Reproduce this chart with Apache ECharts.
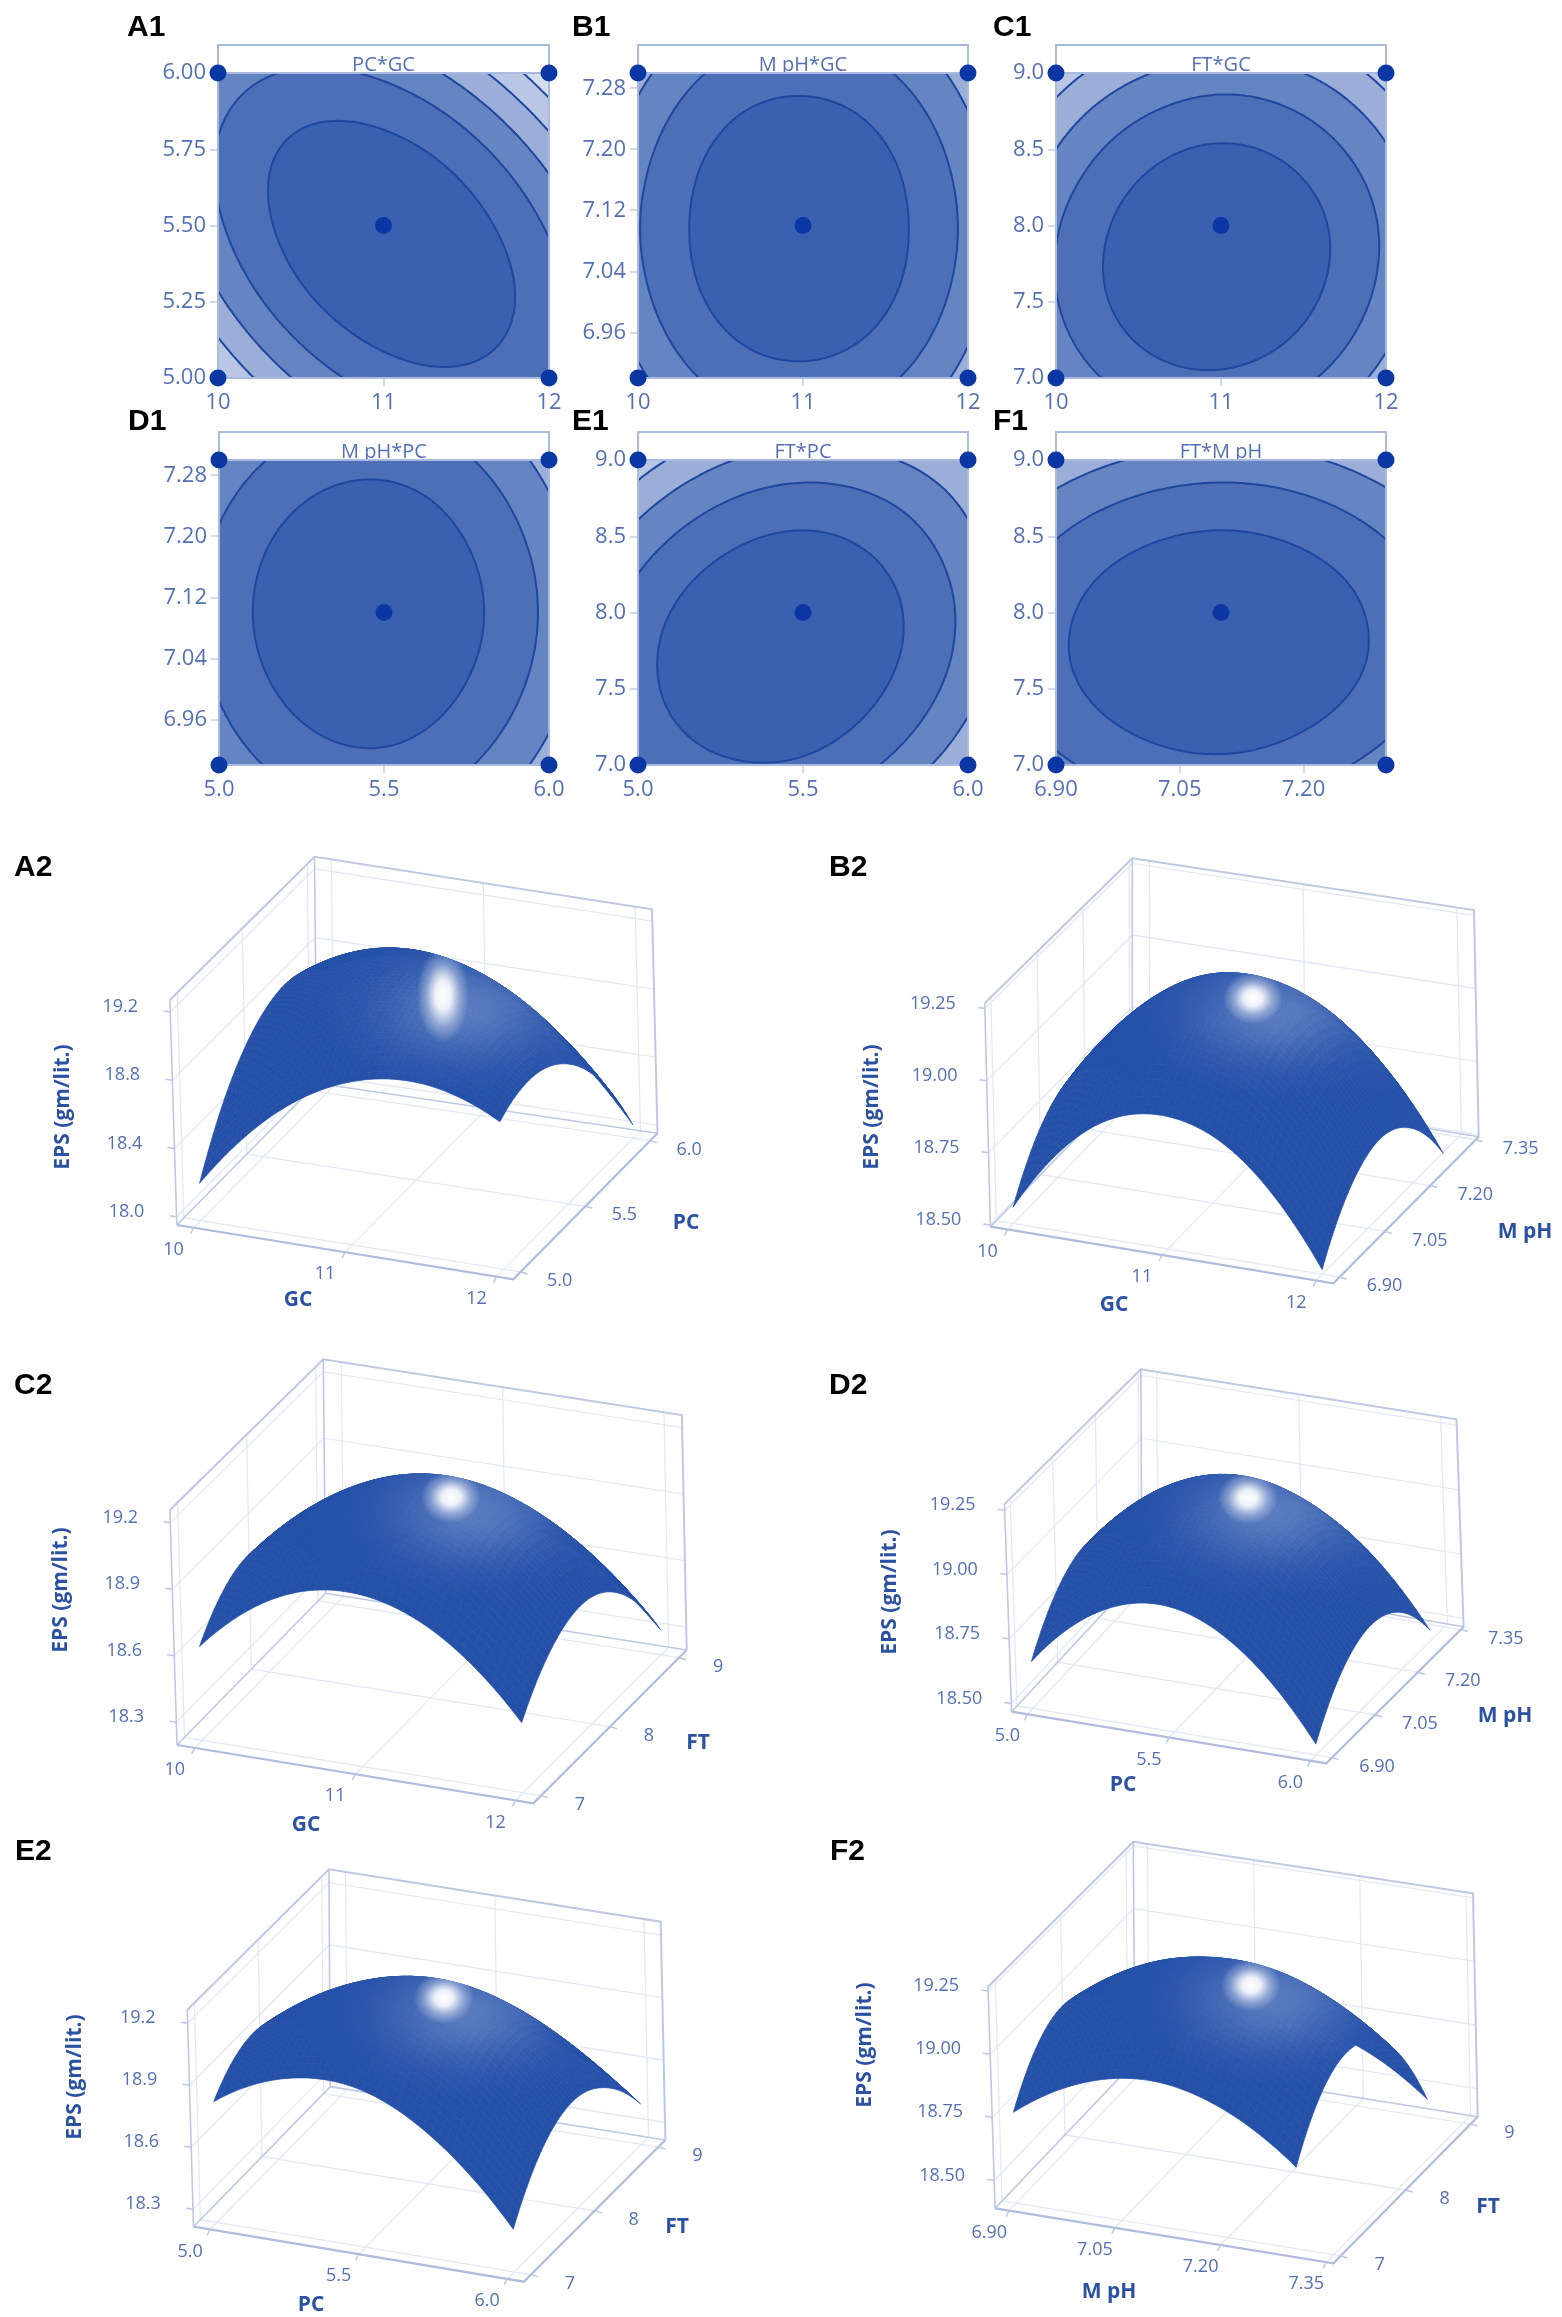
<!DOCTYPE html>
<html><head><meta charset="utf-8"><style>html,body{margin:0;padding:0;background:#fff}#c{width:1562px;height:2317px}</style>
<script src="https://cdn.jsdelivr.net/npm/echarts@6/dist/echarts.min.js"></script></head>
<body><div id="c"></div>
<script>
// EPS (gm/lit.) read from the response surfaces: rows = low to high Y factor, columns = low to high X factor
const epsPCGC = [[18.17,18.64,18.90,18.96,18.81],[18.56,18.95,19.13,19.11,18.88],[18.77,19.08,19.18,19.08,18.77],[18.81,19.04,19.06,18.88,18.49],[18.67,18.82,18.76,18.50,18.03]];
const epsPHGC = [[18.55,18.86,18.95,18.84,18.51],[18.73,19.04,19.13,19.02,18.69],[18.79,19.09,19.19,19.07,18.75],[18.72,19.03,19.12,19.01,18.68],[18.53,18.84,18.93,18.82,18.49]];
const epsFTGC = [[18.62,18.90,18.97,18.84,18.51],[18.79,19.08,19.16,19.04,18.72],[18.78,19.08,19.18,19.07,18.76],[18.60,18.91,19.02,18.92,18.62],[18.28,18.57,18.69,18.60,18.31]];
const epsPHPC = [[18.65,18.89,18.95,18.82,18.51],[18.82,19.06,19.12,18.99,18.69],[18.88,19.12,19.18,19.05,18.75],[18.82,19.06,19.12,18.99,18.69],[18.64,18.88,18.94,18.82,18.51]];
const epsFTPC = [[18.80,18.97,18.97,18.78,18.42],[18.93,19.13,19.16,19.00,18.67],[18.89,19.12,19.18,19.05,18.74],[18.67,18.93,19.02,18.92,18.64],[18.28,18.57,18.68,18.62,18.41]];
const epsFTPH = [[18.75,18.91,18.96,18.89,18.71],[18.94,19.10,19.16,19.09,18.92],[18.95,19.12,19.17,19.12,18.94],[18.79,18.96,19.02,18.96,18.79],[18.45,18.62,18.68,18.63,18.46]];
const contourLevels = [18.2,18.4,18.6,18.8,19.0];
const rangeGC = [10,12], rangePC = [5,6], rangePH = [6.9,7.3], rangeFT = [7,9];
const ticksGC = [10,11,12], ticksPC2 = [5,5.25,5.5,5.75,6], ticksPC = [5,5.5,6], ticksPH = [6.96,7.04,7.12,7.2,7.28], ticksPHx = [6.9,7.05,7.2], ticksFT = [7,7.5,8,8.5,9];
const ticksPH3 = [6.9,7.05,7.2,7.35], ticksFT3 = [7,8,9];
const zTicks12 = [18,18.4,18.8,19.2], zTicks25 = [18.5,18.75,19,19.25], zTicks30 = [18.3,18.6,18.9,19.2];

const bandColors = ['#d4dcee','#b9c7e4','#9aaed7','#6585c2','#4c6fb8','#3a60b0'];
const C_TICK='#5470b5', C_NAME='#2b51a3', C_MARK='#0a37a3', C_SPINE='#a9bade', C_LINE='#1f47a0', C_GRID='#e3e8f4', C_BOX='#bcc8e4';
const FONT='"Open Sans"';

const contours = [
 {l:'A1',t:'PC*GC',box:[218,73,331,305],eps:epsPCGC,xr:rangeGC,yr:rangePC,xt:ticksGC,yt:ticksPC2,xd:0,yd:2},
 {l:'B1',t:'M pH*GC',box:[638,73,330,305],eps:epsPHGC,xr:rangeGC,yr:rangePH,xt:ticksGC,yt:ticksPH,xd:0,yd:2},
 {l:'C1',t:'FT*GC',box:[1056,73,330,305],eps:epsFTGC,xr:rangeGC,yr:rangeFT,xt:ticksGC,yt:ticksFT,xd:0,yd:1},
 {l:'D1',t:'M pH*PC',box:[219,460,330,305],eps:epsPHPC,xr:rangePC,yr:rangePH,xt:ticksPC,yt:ticksPH,xd:1,yd:2},
 {l:'E1',t:'FT*PC',box:[638,460,330,305],eps:epsFTPC,xr:rangePC,yr:rangeFT,xt:ticksPC,yt:ticksFT,xd:1,yd:1},
 {l:'F1',t:'FT*M pH',box:[1056,460,330,305],eps:epsFTPH,xr:rangePH,yr:rangeFT,xt:ticksPHx,yt:ticksFT,xd:2,yd:1}
];
const boxGC=[9.889,12.111], boxPC=[4.944,6.056], boxPH=[6.88,7.36], boxFT=[6.889,9.111];
// p3: projection of the 3-D box corners onto the page: FL, FR, BR, BL (floor), TFL, TBL, TBR (top)
const surfaces = [
 {l:'A2',eps:epsPCGC,xr:rangeGC,yr:rangePC,xb:boxGC,yb:boxPC,zb:[17.952,19.27],xt:ticksGC,yt:ticksPC,zt:zTicks12,xd:0,yd:1,zd:1,xn:'GC',yn:'PC',
  p3:[[176.8,1225],[513.3,1279.3],[657.5,1133.3],[316.8,1083.3],[169.9,1000],[314.5,856.7],[652,909.3]],xp:[298,1300],yp:[686,1223],zp:[63,1107],hl:[443,995,26,48]},
 {l:'B2',eps:epsPHGC,xr:rangeGC,yr:rangePH,xb:boxGC,yb:boxPH,zb:[18.494,19.268],xt:ticksGC,yt:ticksPH3,zt:zTicks25,xd:0,yd:2,zd:2,xn:'GC',yn:'M pH',
  p3:[[990.4,1226.7],[1333.4,1283.3],[1478.7,1136.7],[1132.3,1080],[984.7,1003.3],[1132.3,858.3],[1474,910]],xp:[1114,1305],yp:[1525,1232],zp:[872,1107],hl:[1253,998,30,26]},
 {l:'C2',eps:epsFTGC,xr:rangeGC,yr:rangeFT,xb:boxGC,yb:boxFT,zb:[18.197,19.257],xt:ticksGC,yt:ticksFT3,zt:zTicks30,xd:0,yd:0,zd:1,xn:'GC',yn:'FT',
  p3:[[177,1745],[533.3,1803.3],[686.7,1650],[325.6,1593.3],[169.9,1510],[323.3,1359.3],[681.9,1415]],xp:[306,1825],yp:[698,1743],zp:[61,1590],hl:[451,1497,30,26]},
 {l:'D2',eps:epsPHPC,xr:rangePC,yr:rangePH,xb:boxPC,yb:boxPH,zb:[18.468,19.274],xt:ticksPC,yt:ticksPH3,zt:zTicks25,xd:1,yd:2,zd:2,xn:'PC',yn:'M pH',
  p3:[[1011.6,1711.7],[1326.3,1763.3],[1463.6,1626.7],[1141.8,1571.7],[1004.5,1504],[1140.8,1369.3],[1456.5,1419.3]],xp:[1123,1785],yp:[1505,1716],zp:[890,1592],hl:[1248,1498,30,26]},
 {l:'E2',eps:epsFTPC,xr:rangePC,yr:rangeFT,xb:boxPC,yb:boxFT,zb:[18.216,19.264],xt:ticksPC,yt:ticksFT3,zt:zTicks30,xd:1,yd:0,zd:1,xn:'PC',yn:'FT',
  p3:[[193.5,2226.7],[523.8,2281.7],[665.4,2140],[330.3,2086.7],[187.3,2010],[328.9,1869.3],[660.7,1921.7]],xp:[311,2305],yp:[677,2227],zp:[75,2077],hl:[444,1998,30,26]},
 {l:'F2',eps:epsFTPH,xr:rangePH,yr:rangeFT,xb:boxPH,yb:boxFT,zb:[18.39,19.267],xt:ticksPH3,yt:ticksFT3,zt:zTicks25,xd:2,yd:0,zd:2,xn:'M pH',yn:'FT',
  p3:[[995.1,2208.3],[1333.4,2263.3],[1477.7,2116.7],[1134.7,2061.7],[988,1986.7],[1133.3,1841.7],[1473,1893.3]],xp:[1109,2292],yp:[1488,2207],zp:[865,2045],hl:[1251,1985,30,26]}
];
const letterPos = {A1:[127,28],B1:[572,28],C1:[993,28],D1:[128,422],E1:[572,422],F1:[993,422],A2:[14,868],B2:[829,868],C2:[14,1386],D2:[829,1386],E2:[15,1852],F2:[830,1852]};

// Smooth drawing of a surface between its read nodes (renderer smoothing, like a line's smooth:true)
function cr(p,t){
  const n=p.length, s=Math.min(Math.max(t,0),n-1-1e-9), i=Math.floor(s), f=s-i;
  const g=k=> k<0 ? 3*p[0]-3*p[1]+p[2] : k>=n ? 3*p[n-1]-3*p[n-2]+p[n-3] : p[k];
  const a=g(i-1),b=g(i),c=g(i+1),d=g(i+2);
  return b+.5*f*(c-a+f*(2*a-5*b+4*c-d+f*(3*b-a-3*c+d)));
}
function evalEps(m,tx,ty){ return cr(m.map(r=>cr(r,tx*(r.length-1))),ty*(m.length-1)); }

function renderContour(p,api){
  const N=80,[x0,x1]=p.xr,[y0,y1]=p.yr,V=[];
  for(let j=0;j<=N;j++){V[j]=[];for(let i=0;i<=N;i++)V[j][i]=evalEps(p.eps,i/N,j/N);}
  const dx=(x1-x0)/N,dy=(y1-y0)/N;
  const P=(x,y)=>{const c=api.coord([x,y]);return c[0].toFixed(1)+' '+c[1].toFixed(1);};
  const [bx,by,bw,bh]=p.box;
  const kids=[
    {type:'rect',shape:{x:bx,y:by-28,width:bw,height:28},style:{fill:'#fff',stroke:C_SPINE,lineWidth:2}},
    {type:'text',x:bx+bw/2,y:by-8,style:{text:p.t,fill:C_TICK,font:'20px '+FONT,fontSize:20,fontFamily:'Open Sans',align:'center',verticalAlign:'middle',textAlign:'center',textVerticalAlign:'middle'}},
    {type:'rect',shape:{x:bx,y:by,width:bw,height:bh},style:{fill:bandColors[0]}}
  ];
  let lines='';
  contourLevels.forEach((L,k)=>{
    let d='';
    for(let j=0;j<N;j++){
      let run=-1;
      const ya=y0+j*dy,yb=ya+dy;
      for(let i=0;i<=N;i++){
        const full=i<N&&V[j][i]>=L&&V[j][i+1]>=L&&V[j+1][i+1]>=L&&V[j+1][i]>=L;
        if(full){if(run<0)run=i;continue;}
        if(run>=0){const a=x0+run*dx,b=x0+i*dx;d+='M'+P(a,ya)+'L'+P(b,ya)+'L'+P(b,yb)+'L'+P(a,yb)+'Z';run=-1;}
        if(i==N)break;
        const xa=x0+i*dx,xb=xa+dx;
        const cs=[[xa,ya,V[j][i]],[xb,ya,V[j][i+1]],[xb,yb,V[j+1][i+1]],[xa,yb,V[j+1][i]]];
        if(cs.every(c=>c[2]<L))continue;
        const poly=[],cross=[];
        for(let q=0;q<4;q++){
          const A=cs[q],B=cs[(q+1)%4];
          if(A[2]>=L)poly.push(P(A[0],A[1]));
          if((A[2]>=L)!==(B[2]>=L)){
            const f=(L-A[2])/(B[2]-A[2]),pt=P(A[0]+f*(B[0]-A[0]),A[1]+f*(B[1]-A[1]));
            poly.push(pt);cross.push(pt);
          }
        }
        d+='M'+poly.join('L')+'Z';
        for(let q=0;q+1<cross.length;q+=2)lines+='M'+cross[q]+'L'+cross[q+1];
      }
    }
    if(d)kids.push({type:'path',shape:{pathData:d},style:{fill:bandColors[k+1]}});
  });
  if(lines)kids.push({type:'path',shape:{pathData:lines},style:{fill:'none',stroke:C_LINE,lineWidth:2,lineCap:'round'}});
  kids.push({type:'rect',shape:{x:bx,y:by,width:bw,height:bh},style:{fill:'none',stroke:C_SPINE,lineWidth:2}});
  return {type:'group',children:kids};
}

function projector(s){
  const [FL,FR,BR,BL,TFL,TBL,TBR]=s.p3, TFR=[TFL[0]+TBR[0]-TBL[0],TFL[1]+TBR[1]-TBL[1]];
  const bil=(a,b,c,d,u,v,k)=>(1-v)*((1-u)*a[k]+u*b[k])+v*((1-u)*d[k]+u*c[k]);
  return (u,v,w)=>{
    const f=k=>(1-w)*bil(FL,FR,BR,BL,u,v,k)+w*bil(TFL,TFR,TBR,TBL,u,v,k);
    return [f(0),f(1)];
  };
}
function txt(x,y,text,o){
  return Object.assign({type:'text',x,y,style:Object.assign({text,fill:C_TICK,fontSize:o.size,fontWeight:o.w||'normal',fontFamily:'Open Sans',font:(o.w||'normal')+' '+o.size+'px '+FONT,align:'center',verticalAlign:'middle',textAlign:'center',textVerticalAlign:'middle'},o.fill?{fill:o.fill}:{})},o.rot?{rotation:o.rot}:{});
}
function renderFrame(s,api){
  const pr=projector(s);
  const U=v=>(v-s.xb[0])/(s.xb[1]-s.xb[0]),Vv=v=>(v-s.yb[0])/(s.yb[1]-s.yb[0]),W=v=>(v-s.zb[0])/(s.zb[1]-s.zb[0]);
  const C=(u,v,w)=>api.coord(pr(u,v,w));
  const line=(pts,col,lw)=>({type:'polyline',shape:{points:pts},style:{fill:'none',stroke:col,lineWidth:lw}});
  const k=[];
  s.xt.forEach(t=>{const u=U(t);k.push(line([C(u,0,0),C(u,1,0),C(u,1,1)],C_GRID,1.3));});
  s.yt.forEach(t=>{const v=Vv(t);k.push(line([C(1,v,0),C(0,v,0),C(0,v,1)],C_GRID,1.3));});
  s.zt.forEach(t=>{const w=W(t);k.push(line([C(0,0,w),C(0,1,w),C(1,1,w)],C_GRID,1.3));});
  k.push(line([C(0,0,1),C(0,1,1),C(1,1,1),C(1,1,0)],C_BOX,2));
  k.push(line([C(0,1,1),C(0,1,0)],C_BOX,1.6));
  k.push(line([C(0,0,0),C(0,0,1)],C_BOX,1.6));
  k.push(line([C(0,0,0),C(0,1,0),C(1,1,0)],C_BOX,1.6));
  k.push(line([C(0,0,0),C(1,0,0),C(1,1,0)],'#aebcdd',2.2));
  s.xt.forEach(t=>{const a=C(U(t),0,0);k.push(line([a,[a[0]-3,a[1]+6]],C_BOX,1.5));k.push(txt(a[0]-20,a[1]+22,t.toFixed(s.xd),{size:18}));});
  s.yt.forEach(t=>{const a=C(1,Vv(t),0);k.push(line([a,[a[0]+7,a[1]+2]],C_BOX,1.5));k.push(txt(a[0]+(s.yd==2?45:39),a[1]+9,t.toFixed(s.yd),{size:18}));});
  s.zt.forEach(t=>{const a=C(0,0,W(t));k.push(line([a,[a[0]-7,a[1]-1]],C_BOX,1.5));k.push(txt(a[0]-(s.zd==2?52:50),a[1]-5,t.toFixed(s.zd),{size:18}));});
  k.push(txt(s.xp[0],s.xp[1],s.xn,{size:21,w:'bold',fill:C_NAME}));
  k.push(txt(s.yp[0],s.yp[1],s.yn,{size:21,w:'bold',fill:C_NAME}));
  k.push(txt(s.zp[0],s.zp[1],'EPS (gm/lit.)',{size:21,w:'bold',fill:C_NAME,rot:Math.PI/2}));
  return {type:'group',children:k};
}
function renderSurface(s,api){
  const pr=projector(s),M=44,[hx,hy,hrx,hry]=s.hl,k=[];
  const U=v=>(v-s.xb[0])/(s.xb[1]-s.xb[0]),Vv=v=>(v-s.yb[0])/(s.yb[1]-s.yb[0]),W=v=>(v-s.zb[0])/(s.zb[1]-s.zb[0]);
  const G=[];
  for(let j=0;j<=M;j++){G[j]=[];for(let i=0;i<=M;i++){
    const tx=i/M,ty=j/M,z=evalEps(s.eps,tx,ty);
    const xv=s.xr[0]+tx*(s.xr[1]-s.xr[0]),yv=s.yr[0]+ty*(s.yr[1]-s.yr[0]);
    G[j][i]=api.coord(pr(U(xv),Vv(yv),W(z)));
  }}
  for(let j=M-1;j>=0;j--)for(let i=0;i<M;i++){
    const q=[G[j][i],G[j][i+1],G[j+1][i+1],G[j+1][i]];
    const cx=(q[0][0]+q[2][0])/2,cy=(q[0][1]+q[2][1])/2;
    const a=(cx-hx-22)/78,b=(cy-hy-16)/46,m=.85*Math.exp(-(a*a+b*b));
    const col='rgb('+Math.round(36+m*(98-36))+','+Math.round(80+m*(130-80))+','+Math.round(168+m*(195-168))+')';
    k.push({type:'polygon',shape:{points:q},style:{fill:col,stroke:col,lineWidth:.7}});
  }
  k.push({type:'circle',x:hx,y:hy,scaleY:hry/hrx,shape:{cx:0,cy:0,r:hrx},style:{fill:{type:'radial',x:.5,y:.5,r:.5,colorStops:[{offset:0,color:'rgba(255,255,255,1)'},{offset:.3,color:'rgba(255,255,255,.9)'},{offset:.65,color:'rgba(255,255,255,.35)'},{offset:1,color:'rgba(255,255,255,0)'}]}}});
  return {type:'group',children:k};
}

const grids=[],xAxes=[],yAxes=[],series=[];
contours.forEach((p,i)=>{
  const [l,t,w,h]=p.box;
  grids.push({left:l,top:t,width:w,height:h,containLabel:false});
  const lab=d=>({color:C_TICK,fontFamily:'Open Sans',fontSize:22,fontWeight:500,formatter:v=>(+v).toFixed(d)});
  xAxes.push({gridIndex:i,type:'value',min:p.xr[0],max:p.xr[1],axisLine:{show:false,onZero:false},splitLine:{show:false},
    axisTick:{length:8,lineStyle:{color:'#c2cde6',width:1.5},customValues:p.xt},axisLabel:Object.assign(lab(p.xd),{margin:14,customValues:p.xt})});
  yAxes.push({gridIndex:i,type:'value',min:p.yr[0],max:p.yr[1],axisLine:{show:false,onZero:false},splitLine:{show:false},
    axisTick:{length:8,lineStyle:{color:'#c2cde6',width:1.5},customValues:p.yt},axisLabel:Object.assign(lab(p.yd),{margin:12,padding:[6,0,0,0],customValues:p.yt})});
  series.push({type:'custom',xAxisIndex:i,yAxisIndex:i,coordinateSystem:'cartesian2d',clip:false,silent:true,z:2,data:[[p.xr[0],p.yr[0]]],renderItem:(_,api)=>renderContour(p,api)});
  const xm=(p.xr[0]+p.xr[1])/2,ym=(p.yr[0]+p.yr[1])/2;
  series.push({type:'scatter',xAxisIndex:i,yAxisIndex:i,clip:false,silent:true,z:5,symbolSize:17,itemStyle:{color:C_MARK,opacity:1},
    data:[[p.xr[0],p.yr[0]],[p.xr[1],p.yr[0]],[p.xr[0],p.yr[1]],[p.xr[1],p.yr[1]],[xm,ym]]});
});
grids.push({left:0,top:0,width:1562,height:2317});
xAxes.push({gridIndex:6,type:'value',min:0,max:1562,show:false});
yAxes.push({gridIndex:6,type:'value',min:0,max:2317,inverse:true,show:false});
surfaces.forEach(s=>{
  series.push({type:'custom',xAxisIndex:6,yAxisIndex:6,clip:false,silent:true,z:1,data:[[0,0]],renderItem:(_,api)=>renderFrame(s,api)});
  series.push({type:'custom',xAxisIndex:6,yAxisIndex:6,clip:false,silent:true,z:3,data:[[0,0]],renderItem:(_,api)=>renderSurface(s,api)});
});
const titles=Object.keys(letterPos).map(k=>({text:k,left:letterPos[k][0],top:letterPos[k][1]-17,padding:0,textStyle:{color:'#000',fontFamily:'Liberation Sans',fontWeight:'bold',fontSize:30,lineHeight:34}}));

const chart=echarts.init(document.getElementById('c'),null,{renderer:'canvas'});
chart.setOption({animation:false,backgroundColor:'#fff',title:titles,grid:grids,xAxis:xAxes,yAxis:yAxes,series:series,tooltip:{show:false}});
</script></body></html>
